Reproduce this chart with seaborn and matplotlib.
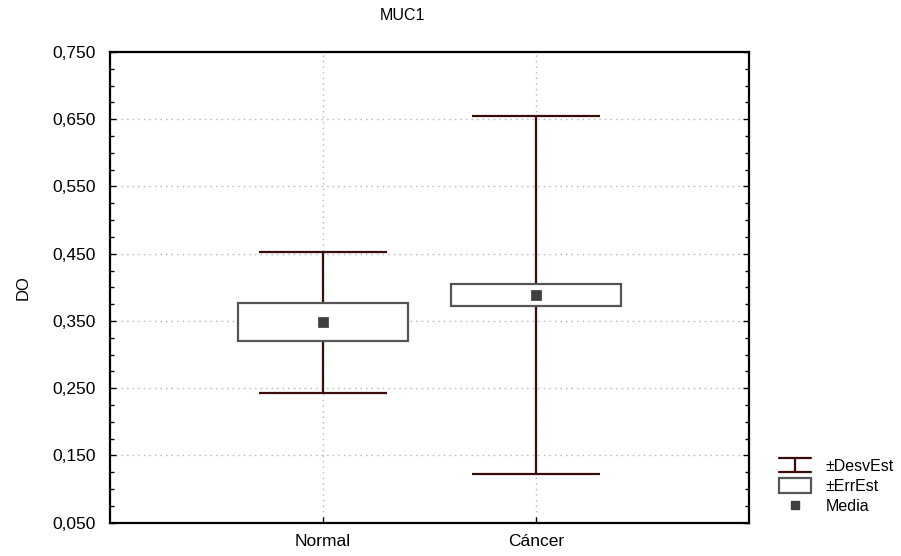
import numpy as np
import matplotlib
matplotlib.use("Agg")
import matplotlib.pyplot as plt
from matplotlib.ticker import FixedLocator, MultipleLocator, FuncFormatter
from matplotlib.legend_handler import HandlerBase
from matplotlib.lines import Line2D
from matplotlib.patches import Rectangle
import seaborn as sns

# summary stats
groups = ["Normal", "Cáncer"]
means = np.array([0.348, 0.389])
se = np.array([0.028, 0.0165])
sd = np.array([0.105, 0.266])

whisker_col = "#3a0c0c"
box_col = "#555555"
mean_col = "#404040"

sns.set_style("white")
plt.rcParams["font.family"] = ["Liberation Sans", "DejaVu Sans"]
plt.rcParams["text.color"] = "black"
plt.rcParams["axes.labelcolor"] = "black"
plt.rcParams["xtick.color"] = "black"
plt.rcParams["ytick.color"] = "black"

fig = plt.figure(figsize=(9.01, 5.56), dpi=100)
ax = fig.add_axes([0.122, 0.06, 0.709, 0.8465])

x = np.arange(len(groups))

# +-SD whiskers, drawn under the box
ax.vlines(x, means - sd, means + sd, color=whisker_col, lw=1.6, zorder=2)
ax.hlines(means - sd, x - 0.3, x + 0.3, color=whisker_col, lw=1.6, zorder=2)
ax.hlines(means + sd, x - 0.3, x + 0.3, color=whisker_col, lw=1.6, zorder=2)

# +-SE boxes
ax.bar(x, 2 * se, bottom=means - se, width=0.8, facecolor="white",
       edgecolor=box_col, linewidth=1.6, zorder=3)

# means
sns.scatterplot(x=x, y=means, marker="s", color=mean_col, s=45,
                edgecolor=mean_col, ax=ax, zorder=4, legend=False)

ax.set_xlim(-1, 2)
ax.set_ylim(0.05, 0.75)
ax.set_xticks(x)
ax.set_xticklabels(groups)
ax.yaxis.set_major_locator(FixedLocator(np.arange(0.05, 0.751, 0.1)))
ax.yaxis.set_minor_locator(MultipleLocator(0.025))
ax.yaxis.set_major_formatter(FuncFormatter(lambda v, p: f"{v:.3f}".replace(".", ",")))
ax.tick_params(axis="both", which="both", direction="in", labelsize=12.5)
ax.tick_params(axis="y", which="both", left=True, right=True, pad=10)
ax.tick_params(axis="y", which="major", length=4, width=1)
ax.tick_params(axis="y", which="minor", length=3, width=1)
ax.tick_params(axis="x", which="major", bottom=True, length=4, width=1, pad=8)

ax.grid(True, which="major", linestyle=(0, (1, 3)), color="#b5b5b5", lw=1, zorder=0)
ax.set_axisbelow(True)
for s in ax.spines.values():
    s.set_visible(True)
    s.set_color("black")
    s.set_linewidth(1.6)

ax.set_ylabel("DO", fontsize=12, labelpad=16)
ax.set_xlabel("")
fig.text(402 / 901, 1 - 15 / 556, "MUC1", ha="center", va="center", fontsize=11.5)


class SDHandler(HandlerBase):
    # legend icon shaped like the whisker: two caps joined by a stem
    def create_artists(self, legend, orig, xd, yd, w, h, fontsize, trans):
        cx = xd + w / 2
        top, bot = yd + h * 0.75, yd - h * 0.2
        arts = [Line2D([xd, xd + w], [top, top], color=whisker_col, lw=1.6),
                Line2D([xd, xd + w], [bot, bot], color=whisker_col, lw=1.6),
                Line2D([cx, cx], [bot, top], color=whisker_col, lw=1.6)]
        for a in arts:
            a.set_transform(trans)
        return arts


sd_handle = Line2D([], [], color=whisker_col)
se_handle = Rectangle((0, 0), 1, 1, facecolor="white", edgecolor=box_col, lw=1.6)
mean_handle = Line2D([], [], marker="s", ls="none", color=mean_col, markersize=6)
fig.legend([sd_handle, se_handle, mean_handle], ["±DesvEst", "±ErrEst", "Media"],
           handler_map={sd_handle: SDHandler()},
           loc="upper left", bbox_to_anchor=(779 / 901, 1 - 458 / 556),
           frameon=False, fontsize=11.5, handlelength=2.0, handleheight=1.0,
           handletextpad=0.9, labelspacing=0.3, borderaxespad=0, borderpad=0)

fig.savefig("out.png", dpi=100)
